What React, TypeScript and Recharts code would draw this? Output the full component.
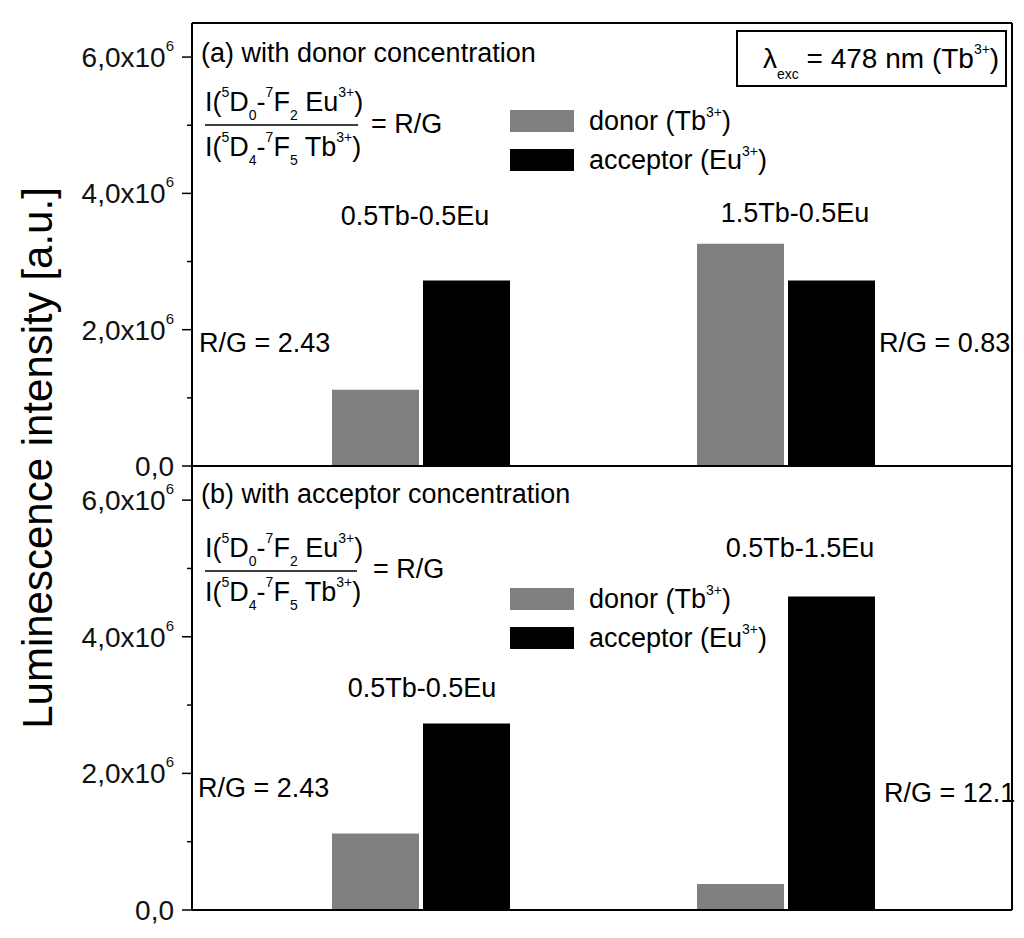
import React from "react";
import { BarChart, Bar, XAxis, YAxis, Legend } from "recharts";

const FONT = '"Liberation Sans", Arial, Helvetica, sans-serif';

// panel (a): varying donor concentration
const panelACategories = ["0.5Tb-0.5Eu", "1.5Tb-0.5Eu"];
const panelADonor = [1.12e6, 3.26e6];
const panelAAcceptor = [2.72e6, 2.72e6];
const panelARatios = ["R/G = 2.43", "R/G = 0.83"];

// panel (b): varying acceptor concentration
const panelBCategories = ["0.5Tb-0.5Eu", "0.5Tb-1.5Eu"];
const panelBDonor = [1.12e6, 0.38e6];
const panelBAcceptor = [2.73e6, 4.59e6];
const panelBRatios = ["R/G = 2.43", "R/G = 12.1"];

const yTicks = [0, 1e6, 2e6, 3e6, 4e6, 5e6, 6e6];
const yDomain = [0, 6.5e6];

const donorColor = "#808080";
const acceptorColor = "#000000";

const seriesOrder = ["donor", "acceptor"];
const legendLabels: Record<string, string[]> = {
  donor: ["donor (Tb", "3+", ")"],
  acceptor: ["acceptor (Eu", "3+", ")"],
};

const panelAData = panelACategories.map((name, i) => ({
  name,
  donor: panelADonor[i],
  acceptor: panelAAcceptor[i],
}));
const panelBData = panelBCategories.map((name, i) => ({
  name,
  donor: panelBDonor[i],
  acceptor: panelBAcceptor[i],
}));

function YTick(props: any) {
  const { x, y, payload } = props;
  const v = payload.value;
  const major = v % 2e6 === 0;
  const ax = x + 10;
  const label = v === 0 ? "0,0" : (v / 1e6).toFixed(1).replace(".", ",") + "x10";
  return (
    <g>
      <line x1={ax - (major ? 10 : 5)} x2={ax} y1={y} y2={y} stroke="#000" strokeWidth={1.5} />
      {major && (
        <text x={ax - 18} y={y + 10} textAnchor="end" fontSize={28} fontFamily={FONT} fill="#111">
          {label}
          {v !== 0 && (
            <tspan dy={-16} fontSize={15}>
              6
            </tspan>
          )}
        </text>
      )}
    </g>
  );
}

function LegendContent(props: any) {
  const items = [...(props.payload || [])].sort(
    (a: any, b: any) => seriesOrder.indexOf(a.dataKey) - seriesOrder.indexOf(b.dataKey)
  );
  return (
    <div style={{ fontFamily: FONT, fontSize: 27, color: "#000" }}>
      {items.map((it: any) => {
        const parts = legendLabels[it.dataKey] || [it.value, "", ""];
        return (
          <div key={it.dataKey} style={{ position: "relative", height: 39, width: 320 }}>
            <div style={{ position: "absolute", left: 0, top: 0, width: 64, height: 22, background: it.color }} />
            <span style={{ position: "absolute", left: 79, top: -2, lineHeight: "27px", whiteSpace: "nowrap" }}>
              {parts[0]}
              <span style={{ fontSize: 14, position: "relative", top: -13 }}>{parts[1]}</span>
              {parts[2]}
            </span>
          </div>
        );
      })}
    </div>
  );
}

type Part = [string, ("sup" | "sub" | "lsub")?];

function Rich({ x, y, parts, size = 27, anchor = "start" }: { x: number; y: number; parts: Part[]; size?: number; anchor?: string }) {
  let shift = 0;
  return (
    <text x={x} y={y} fontSize={size} fontFamily={FONT} textAnchor={anchor as any} fill="#000" style={{ whiteSpace: "pre" }}>
      {parts.map(([t, k], i) => {
        const target = k === "sup" ? -14 : k === "sub" ? 9 : k === "lsub" ? 11 : 0;
        const dy = target - shift;
        shift = target;
        return (
          <tspan key={i} dy={dy} fontSize={k ? 14 : size}>
            {t}
          </tspan>
        );
      })}
    </text>
  );
}

const numerator: Part[] = [["I("], ["5", "sup"], ["D"], ["0", "sub"], ["-"], ["7", "sup"], ["F"], ["2", "sub"], [" Eu"], ["3+", "sup"], [")"]];
const denominator: Part[] = [["I("], ["5", "sup"], ["D"], ["4", "sub"], ["-"], ["7", "sup"], ["F"], ["5", "sub"], [" Tb"], ["3+", "sup"], [")"]];

export default function App() {
  const axisLine = { stroke: "#000", strokeWidth: 2 };
  return (
    <div style={{ position: "absolute", left: 0, top: 0, width: 1024, height: 938, background: "#fff" }}>
      <div style={{ position: "absolute", left: 0, top: 0 }}>
        <BarChart width={1024} height={492} data={panelAData} margin={{ top: 22, right: 11, bottom: 25, left: 0 }} barSize={87} barGap={4}>
          <XAxis dataKey="name" height={1} tick={false} tickLine={false} axisLine={axisLine} padding={{ left: 46, right: 44 }} />
          <XAxis xAxisId="top" orientation="top" height={1} tick={false} tickLine={false} axisLine={axisLine} />
          <YAxis domain={yDomain} ticks={yTicks} interval={0} width={192} tickSize={10} tickMargin={0} tickLine={false} axisLine={axisLine} tick={<YTick />} />
          <YAxis yAxisId="right" orientation="right" type="number" domain={[0, 1]} width={1} tick={false} tickLine={false} axisLine={axisLine} />
          <Legend layout="vertical" verticalAlign="middle" align="center" content={<LegendContent />} wrapperStyle={{ left: 510, top: 110, width: 320 }} />
          <Bar dataKey="donor" name="donor (Tb3+)" fill={donorColor} isAnimationActive={false} />
          <Bar dataKey="acceptor" name="acceptor (Eu3+)" fill={acceptorColor} isAnimationActive={false} />
        </BarChart>
      </div>
      <div style={{ position: "absolute", left: 0, top: 466 }}>
        <BarChart width={1024} height={470} data={panelBData} margin={{ top: 0, right: 11, bottom: 25, left: 0 }} barSize={87} barGap={4}>
          <XAxis dataKey="name" height={1} tick={false} tickLine={false} axisLine={axisLine} padding={{ left: 46, right: 44 }} />
          <YAxis domain={yDomain} ticks={yTicks} interval={0} width={192} tickSize={10} tickMargin={0} tickLine={false} axisLine={axisLine} tick={<YTick />} />
          <YAxis yAxisId="right" orientation="right" type="number" domain={[0, 1]} width={1} tick={false} tickLine={false} axisLine={axisLine} />
          <Legend layout="vertical" verticalAlign="middle" align="center" content={<LegendContent />} wrapperStyle={{ left: 510, top: 122, width: 320 }} />
          <Bar dataKey="donor" name="donor (Tb3+)" fill={donorColor} isAnimationActive={false} />
          <Bar dataKey="acceptor" name="acceptor (Eu3+)" fill={acceptorColor} isAnimationActive={false} />
        </BarChart>
      </div>
      <svg width={1024} height={938} style={{ position: "absolute", left: 0, top: 0, pointerEvents: "none" }}>
        <text x={52} y={458} transform="rotate(-90 52 458)" textAnchor="middle" fontSize={42} fontFamily={FONT} fill="#000">
          Luminescence intensity [a.u.]
        </text>

        {/* panel (a) */}
        <text x={201} y={62} fontSize={27} fontFamily={FONT}>(a) with donor concentration</text>
        <rect x={737} y={31} width={269} height={55} fill="none" stroke="#000" strokeWidth={2} />
        <Rich x={763} y={68} size={28} parts={[["λ"], ["exc", "lsub"], [" = 478 nm (Tb"], ["3+", "sup"], [")"]]} />
        <Rich x={205} y={111} parts={numerator} />
        <line x1={205} x2={358} y1={125} y2={125} stroke="#000" strokeWidth={1.5} />
        <Rich x={205} y={156} parts={denominator} />
        <text x={371} y={133} fontSize={27} fontFamily={FONT}>= R/G</text>
        <text x={415} y={225} textAnchor="middle" fontSize={27} fontFamily={FONT}>{panelACategories[0]}</text>
        <text x={795} y={222} textAnchor="middle" fontSize={27} fontFamily={FONT}>{panelACategories[1]}</text>
        <text x={199} y={352} fontSize={27} fontFamily={FONT}>{panelARatios[0]}</text>
        <text x={879} y={352} fontSize={27} fontFamily={FONT}>{panelARatios[1]}</text>

        {/* panel (b) */}
        <text x={201} y={503} fontSize={27} fontFamily={FONT}>(b) with acceptor concentration</text>
        <Rich x={205} y={557} parts={numerator} />
        <line x1={205} x2={357} y1={571} y2={571} stroke="#000" strokeWidth={1.5} />
        <Rich x={205} y={601} parts={denominator} />
        <text x={373} y={578} fontSize={27} fontFamily={FONT}>= R/G</text>
        <text x={800} y={557} textAnchor="middle" fontSize={27} fontFamily={FONT}>{panelBCategories[1]}</text>
        <text x={422} y={697} textAnchor="middle" fontSize={27} fontFamily={FONT}>{panelBCategories[0]}</text>
        <text x={198} y={797} fontSize={27} fontFamily={FONT}>{panelBRatios[0]}</text>
        <text x={884} y={802} fontSize={27} fontFamily={FONT}>{panelBRatios[1]}</text>
      </svg>
    </div>
  );
}
